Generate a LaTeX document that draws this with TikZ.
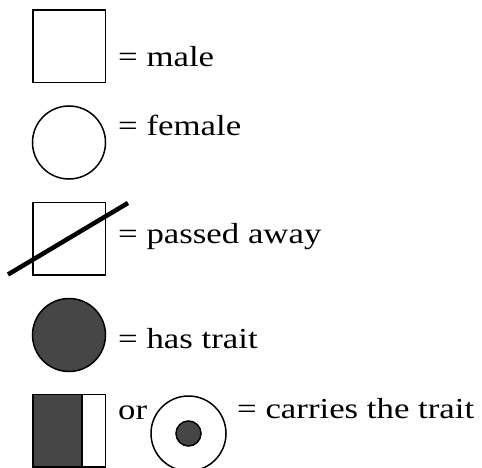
\documentclass[tikz,border=0pt]{standalone}
\usepackage{fontspec}
\setmainfont[FakeStretch=1.2]{Liberation Serif}
\definecolor{trait}{RGB}{70,70,70}
\tikzset{
  sym/.style={draw=black, line width=1.5pt, fill=white},
  lbl/.style={anchor=base west, inner sep=0pt, font=\fontsize{29pt}{33pt}\selectfont},
}
\begin{document}
\begin{tikzpicture}[x=1pt,y=-1pt]
\useasboundingbox (0,0) rectangle (482,468);
% male
\node[sym, rectangle, minimum width=72.5pt, minimum height=72.5pt, inner sep=0pt] (male) at (69,46.5) {};
\node[lbl] (maletxt) at (118,67) {= male};
% female
\node[sym, circle, minimum size=73pt, inner sep=0pt] (female) at (69,142.5) {};
\node[lbl] (femaletxt) at (118,136) {= female};
% passed away
\node[sym, rectangle, minimum width=72.5pt, minimum height=72.5pt, inner sep=0pt] (dead) at (69,238.5) {};
\coordinate (d1) at (8,274.5);
\coordinate (d2) at (128,203);
\draw[line width=4.5pt] (d1) -- (d2);
\node[lbl] (deadtxt) at (118,243) {= passed away};
% has trait
\node[sym, circle, fill=trait, minimum size=73pt, inner sep=0pt] (trait) at (69,335) {};
\node[lbl] (traittxt) at (118,348) {= has trait};
% carrier
\fill[trait] (33,394) rectangle (82,467);
\node[sym, rectangle, fill=none, minimum width=72.5pt, minimum height=72.5pt, inner sep=0pt] (carm) at (69,430.5) {};
\draw[line width=1.5pt] (82,394) -- (82,467);
\node[lbl] (or) at (118,419) {or};
\node[sym, circle, minimum size=75pt, inner sep=0pt] (carf) at (188.5,433.5) {};
\node[sym, circle, fill=trait, minimum size=25pt, inner sep=0pt] (dot) at (188.5,433.5) {};
\node[lbl] (cartxt) at (237,418) {= carries the trait};
\end{tikzpicture}
\end{document}
